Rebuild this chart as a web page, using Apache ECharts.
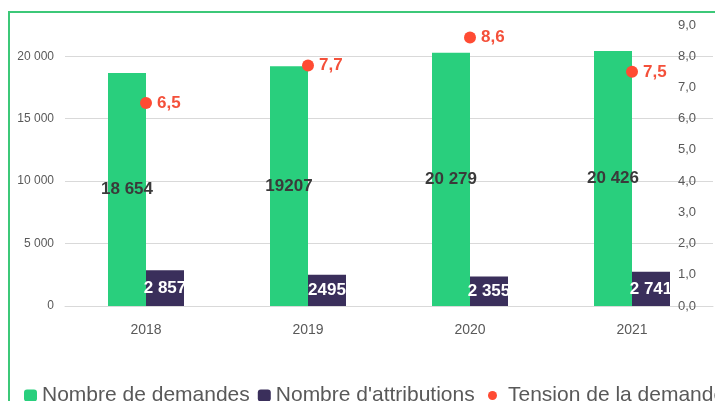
<!DOCTYPE html>
<html>
<head>
<meta charset="utf-8">
<script src="https://cdn.jsdelivr.net/npm/echarts@6/dist/echarts.min.js"></script>
<style>html,body{margin:0;padding:0;background:#fff;}#c{width:715px;height:401px;}</style>
</head>
<body>
<div id="c"></div>
<script>
var years = ['2018', '2019', '2020', '2021'];
var demandes = [18654, 19207, 20279, 20426];
var demandesLabels = ['18 654', '19207', '20 279', '20 426'];
var attributions = [2857, 2495, 2355, 2741];
var attributionsLabels = ['2 857', '2495', '2 355', '2 741'];
var tension = [6.5, 7.7, 8.6, 7.5];
var tensionLabels = ['6,5', '7,7', '8,6', '7,5'];

var FONT = "'Liberation Sans', Arial, sans-serif";
var chart = echarts.init(document.getElementById('c'), null, {renderer: 'canvas'});
chart.setOption({
  animation: false,
  backgroundColor: '#fff',
  textStyle: {fontFamily: FONT},
  grid: {left: 65, right: 2, top: 25, bottom: 95, containLabel: false},
  graphic: [{
    type: 'rect', silent: true, z: 100,
    shape: {x: 9, y: 12, width: 1000, height: 1000},
    style: {fill: 'none', stroke: '#3cc878', lineWidth: 2}
  }],
  legend: [{
    left: 19, top: 380, itemWidth: 13, itemHeight: 12, itemGap: 8,
    data: ['Nombre de demandes', "Nombre d'attributions"],
    textStyle: {fontSize: 21, color: '#595959', fontFamily: FONT}
  }, {
    left: 483, top: 380, itemWidth: 21, itemHeight: 9,
    data: [{name: 'Tension de la demande', icon: 'circle'}],
    textStyle: {fontSize: 21, color: '#595959', fontFamily: FONT}
  }],
  xAxis: {
    type: 'category', data: years,
    axisLine: {lineStyle: {color: '#d9d9d9'}},
    axisTick: {show: false},
    axisLabel: {fontSize: 14, color: '#595959', margin: 17, fontFamily: FONT}
  },
  yAxis: [{
    type: 'value', min: 0, max: 22500, interval: 5000,
    axisLine: {show: false}, axisTick: {show: false},
    axisLabel: {
      fontSize: 12, color: '#595959', margin: 11, showMaxLabel: false, fontFamily: FONT,
      formatter: function (v) { return String(v).replace(/\B(?=(\d{3})+(?!\d))/g, ' '); }
    },
    splitLine: {show: true, showMaxLine: false, lineStyle: {color: '#d9d9d9'}}
  }, {
    type: 'value', min: 0, max: 9, interval: 1, position: 'right',
    axisLine: {show: false}, axisTick: {show: false},
    axisLabel: {
      inside: true, fontSize: 13, color: '#595959', margin: 17, fontFamily: FONT,
      formatter: function (v) { return v.toFixed(1).replace('.', ','); }
    },
    splitLine: {show: false}
  }],
  series: [{
    name: 'Nombre de demandes', type: 'bar', data: demandes,
    barWidth: 38, barGap: '0%',
    itemStyle: {color: '#29cf7d'},
    label: {
      show: true, position: 'inside', fontSize: 17, fontWeight: 'bold', color: '#3a3a3a', fontFamily: FONT,
      formatter: function (p) { return demandesLabels[p.dataIndex]; }
    }
  }, {
    name: "Nombre d'attributions", type: 'bar', data: attributions,
    barWidth: 38,
    itemStyle: {color: '#3a2f5b'},
    label: {
      show: true, position: 'inside', fontSize: 17, fontWeight: 'bold', color: '#fff', fontFamily: FONT,
      formatter: function (p) { return attributionsLabels[p.dataIndex]; }
    }
  }, {
    name: 'Tension de la demande', type: 'scatter', yAxisIndex: 1, data: tension,
    symbol: 'circle', symbolSize: 12,
    itemStyle: {color: '#ff4b33', opacity: 1},
    label: {
      show: true, position: 'right', distance: 5, fontSize: 17, fontWeight: 'bold', color: '#f4503a', fontFamily: FONT,
      formatter: function (p) { return tensionLabels[p.dataIndex]; }
    }
  }]
});
</script>
</body>
</html>
